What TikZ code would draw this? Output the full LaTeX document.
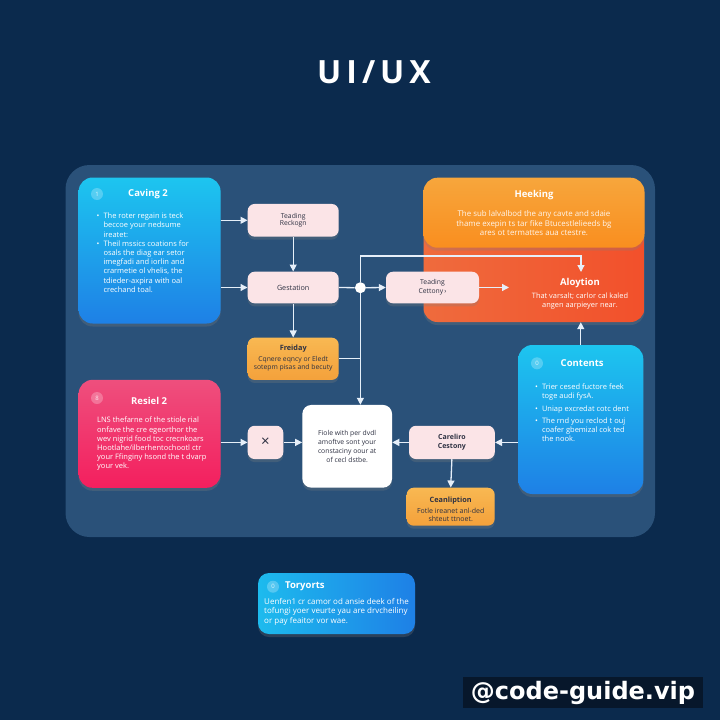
\documentclass[tikz,border=0pt]{standalone}
\usepackage{fontspec}
\setmainfont{Open Sans}
\newfontfamily\wmfont{DejaVu Sans}
\usetikzlibrary{arrows.meta,shadows}
\definecolor{bgc}{HTML}{0B2A4D}
\definecolor{panelc}{HTML}{2A5179}
\definecolor{linec}{HTML}{E6EFF9}
\definecolor{pinkbox}{HTML}{FBE4E7}
\definecolor{darktxt}{HTML}{2E3142}
\definecolor{cyanA}{HTML}{1DC5EF}
\definecolor{blueB}{HTML}{1E80E6}
\definecolor{pinkA}{HTML}{EE4F7D}
\definecolor{pinkB}{HTML}{F41F5E}
\definecolor{orA}{HTML}{F7A63C}
\definecolor{orB}{HTML}{F98E1F}
\definecolor{redA}{HTML}{EF6B3D}
\definecolor{redB}{HTML}{F2502B}
\definecolor{lorA}{HTML}{F8B852}
\definecolor{lorB}{HTML}{F4A13B}
\definecolor{wmbg}{HTML}{07172B}
\newcommand\bulletlist[1]{\begin{tabular}{@{}l@{\hspace{4pt}}l@{}}#1\end{tabular}}
\begin{document}
\begin{tikzpicture}[x=1pt,y=-1pt,
  shadowed/.style={drop shadow={opacity=0.28,shadow xshift=0pt,shadow yshift=-3pt}},
  bigbox/.style={rounded corners=14pt,inner sep=0pt,shadowed},
  smallbox/.style={rounded corners=7pt,fill=pinkbox,inner sep=0pt,align=center,text=darktxt,shadowed},
  orbox/.style={rounded corners=7pt,top color=lorA,bottom color=lorB,inner sep=0pt,shadowed},
  conn/.style={draw=linec,line width=1.3pt,-{Triangle[length=7pt,width=7pt]}},
  plainln/.style={draw=linec,line width=1.3pt},
  body/.style={inner sep=0pt,font=\fontsize{7.5}{9.2}\selectfont,text=white,align=left},
  ttl/.style={inner sep=0pt,font=\fontsize{9.5}{11}\selectfont\bfseries,text=white},
  dtxt/.style={inner sep=0pt,text=darktxt,align=center},
  iconc/.style={circle,fill=white,fill opacity=0.25,text opacity=0.8,minimum size=12pt,inner sep=0pt,font=\fontsize{6}{6}\selectfont,text=white}
]
\useasboundingbox (0,0) rectangle (720,720);
\fill[bgc] (0,0) rectangle (720,720);
% title
\node[font=\fontsize{32}{32}\selectfont\bfseries,text=white,inner sep=0pt] (title) at (374,72.5) {U\kern5pt I\kern5pt /\kern5pt U\kern5pt X};
% panel
\fill[panelc,rounded corners=24pt] (65.5,165) rectangle (655,537);

% big boxes
\node[bigbox,top color=cyanA,bottom color=blueB,minimum width=142pt,minimum height=146pt] (caving) at (149.6,250.5) {};
\node[bigbox,top color=pinkA,bottom color=pinkB,minimum width=142pt,minimum height=108pt] (res) at (149.6,433.8) {};
\node[bigbox,left color=redA,right color=redB,minimum width=221pt,minimum height=112pt] (aly) at (534,266) {};
\node[bigbox,top color=orA,bottom color=orB,minimum width=221pt,minimum height=70pt] (hee) at (534,212.7) {};
\node[bigbox,top color=cyanA,bottom color=blueB,minimum width=125pt,minimum height=149pt] (cont) at (580.8,419.5) {};
\node[bigbox,left color=cyanA!85!blueB,right color=blueB,rounded corners=11pt,minimum width=157pt,minimum height=61pt] (tory) at (336.5,603.5) {};

% small boxes
\node[smallbox,minimum width=91pt,minimum height=32.7pt,font=\fontsize{6.8}{7.6}\selectfont] (tr) at (293.2,220.3) {Teading\\Reckogn};
\node[smallbox,minimum width=91pt,minimum height=31.6pt,font=\fontsize{7.2}{8}\selectfont] (gest) at (293.2,287.5) {Gestation};
\node[orbox,minimum width=91pt,minimum height=42.3pt] (fri) at (293.2,358.8) {};
\node[smallbox,minimum width=93pt,minimum height=31.6pt,font=\fontsize{6.8}{9}\selectfont] (tc) at (432.5,287.5) {Teading\\Cettony\,›};
\node[smallbox,minimum width=35.6pt,minimum height=33.3pt,font=\fontsize{15}{15}\selectfont] (xb) at (265.5,442.4) {×};
\node[smallbox,fill=white,rounded corners=9pt,minimum width=89.7pt,minimum height=82.7pt,font=\fontsize{6.8}{9}\selectfont] (white) at (347.2,446.3) {Fiole with per dvdl\\amoftve sont your\\constaciny oour at\\of cecl dstbe.};
\node[smallbox,minimum width=85.8pt,minimum height=33.3pt,font=\fontsize{7}{9}\selectfont\bfseries] (car) at (451.9,442.4) {Careliro\\Cestony};
\node[orbox,minimum width=88pt,minimum height=38pt] (cean) at (450.7,506.7) {};

% junction
\node[circle,fill=white,minimum size=11pt,inner sep=0pt] (junc) at (360.4,287.7) {};
\coordinate (bendA) at (581,256);
\coordinate (alyin) at (581,272);
\coordinate (tcout) at (509,287.5);

% connectors
\draw[conn] (caving.east |- tr.west) -- (tr.west);
\draw[conn] (caving.east |- gest.west) -- (gest.west);
\draw[conn] (tr.south) -- (gest.north);
\draw[conn] (gest.south) -- (fri.north);
\draw[plainln] (gest.east) -- (junc.west);
\draw[conn] (junc.east) -- (tc.west);
\draw[conn] (junc.north) |- (bendA) -- (alyin);
\draw[conn] (junc.south) -- (junc |- white.north);
\draw[plainln] (fri.east) -- (fri.east -| junc);
\draw[conn] (tc.east) -- (tcout);
\draw[conn] (cont.north) -- (cont.north |- aly.south);
\draw[conn] (res.east |- xb.west) -- (xb.west);
\draw[conn] (xb.east) -- (xb.east -| white.west);
\draw[conn] (cont.west |- car.east) -- (car.east);
\draw[conn] (car.west) -- (car.west -| white.east);
\draw[conn] (car.south) -- (cean.north);

% Caving text
\node[iconc] (cavicon) at (97,194) {1};
\node[ttl,anchor=west] (cavttl) at (128,194) {Caving 2};
\node[body,anchor=north west] (cavb) at (96.5,212) {\bulletlist{%
• & The roter regain is teck\\
  & beccoe your nedsume\\
  & ireatet:\\
• & Theil mssics coations for\\
  & osals the diag ear setor\\
  & imegfadi and iorlin and\\
  & crarmetie ol vhelis, the\\
  & tdieder-axpira with oal\\
  & crechand toal.}};

% Resiel text
\node[iconc] (resicon) at (97,398) {8};
\node[ttl,anchor=west] (resttl) at (131,401) {Resiel 2};
\node[body,anchor=north west] (resb) at (97,417) {LNS thefarne of the stiole rial\\onfave the cre egeorthor the\\wev nigrid food toc crecnkoars\\Hootlahe/ilberhentochootl ctr\\your Ffinginy hsond the t dvarp\\your vek.};

% Heeking text
\node[ttl] (heettl) at (534,195) {Heeking};
\node[body,align=center,anchor=north,text=white!92!orange,font=\fontsize{7.9}{9.3}\selectfont] (heeb) at (534,210.5) {The sub lalvalbod the any cavte and sdaie\\thame exepin ts tar fike Btucestlelieeds bg\\ares ot termattes aua ctestre.};

% Aloytion text
\node[ttl] (alyttl) at (580,283) {Aloytion};
\node[body,align=center,anchor=north,font=\fontsize{7.4}{8.8}\selectfont] (alyb) at (580,292.5) {That varsalt; carlor cal kaled\\angen aarpieyer near.};

% Contents text
\node[iconc] (conicon) at (537,363.3) {0};
\node[ttl,anchor=west] (conttl) at (560.5,363.3) {Contents};
\node[body,anchor=north west] (conb) at (535,383) {\bulletlist{%
• & Trier cesed fuctore feek\\
  & toge audi fysA.\\[3pt]
• & Uniap excredat cotc dent\\[3pt]
• & The rnd you reclod t ouj\\
  & coafer gbemizal cok ted\\
  & the nook.}};

% Freiday / Ceanliption text
\node[dtxt,font=\fontsize{7.3}{8}\selectfont\bfseries] (frittl) at (293.2,349) {Freiday};
\node[dtxt,anchor=north,font=\fontsize{6.8}{8.3}\selectfont] (frib) at (293.2,356) {Cqnere eqncy or Eledt\\sotepm pisas and becuty};
\node[dtxt,font=\fontsize{7.3}{8}\selectfont\bfseries] (ceattl) at (450.7,501) {Ceanliption};
\node[dtxt,anchor=north,font=\fontsize{7}{7.8}\selectfont] (ceab) at (450.7,508) {Fotle ireanet anl-ded\\shteut ttnoet.};

% Toryorts text
\node[iconc] (toricon) at (273,586.7) {0};
\node[ttl,anchor=west] (torttl) at (285,586.7) {Toryorts};
\node[body,anchor=north west,font=\fontsize{8}{9.4}\selectfont] (torb) at (264,598) {Uenfen1 cr camor od ansie deek of the\\tofungi yoer veurte yau are drvcheiliny\\or pay feaitor vor wae.};

% watermark
\node[fill=wmbg,minimum width=240pt,minimum height=31pt,inner sep=0pt,text=white,font=\wmfont\bfseries\fontsize{24}{24}\selectfont] (wm) at (583,692.5) {@code-guide.vip};
\end{tikzpicture}
\end{document}
